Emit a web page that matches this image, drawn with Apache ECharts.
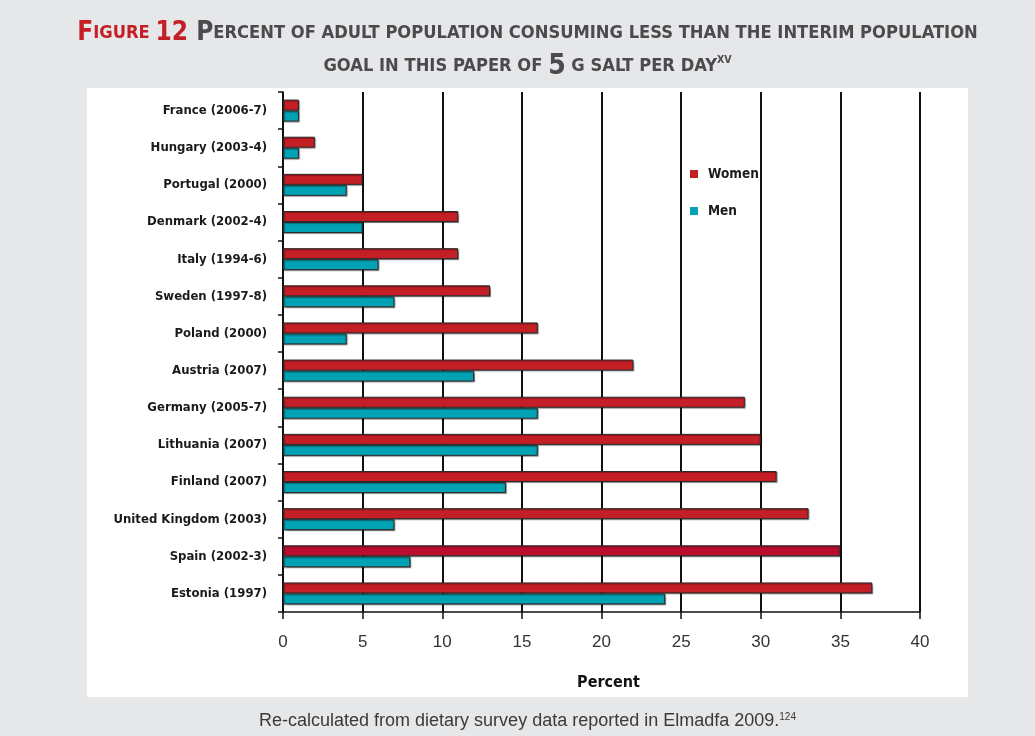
<!DOCTYPE html>
<html>
<head>
<meta charset="utf-8">
<script src="https://cdn.jsdelivr.net/npm/echarts@6/dist/echarts.min.js"></script>
<style>
  html, body { margin: 0; padding: 0; background: #e6e7e9; }
  #chart { width: 1035px; height: 736px; }
</style>
</head>
<body>
<div id="chart"></div>
<script>
// Survey categories, top to bottom
const countries = [
  'France (2006-7)', 'Hungary (2003-4)', 'Portugal (2000)', 'Denmark (2002-4)',
  'Italy (1994-6)', 'Sweden (1997-8)', 'Poland (2000)', 'Austria (2007)',
  'Germany (2005-7)', 'Lithuania (2007)', 'Finland (2007)', 'United Kingdom (2003)',
  'Spain (2002-3)', 'Estonia (1997)'
];
// Percent of adults below 5 g salt per day
const women = [1, 2, 5, 11, 11, 13, 16, 22, 29, 30, 31, 33, 35, 37];
const men   = [1, 1, 4, 5, 6, 7, 4, 12, 16, 16, 14, 7, 8, 24];
const xTicks = [0, 5, 10, 15, 20, 25, 30, 35, 40];
const highlighted = 'Spain (2002-3)';

const RED = '#c41e26';
const RED_DARK = '#b80d2d';
const TEAL = '#00a2b3';
const GREY = '#4b4b4d';
const COND = '"Liberation Sans Narrow", "DejaVu Sans Condensed", "Liberation Sans", sans-serif';
const PLAIN = '"Liberation Sans", sans-serif';

// Turn a phrase into rich-text runs imitating small capitals
function smallCaps(text, bigKey, smallKey) {
  let out = '', run = '', cur = null;
  for (const ch of text) {
    let key;
    if (ch === ' ') key = cur || smallKey;
    else if (ch >= 'a' && ch <= 'z') key = smallKey;
    else key = bigKey;
    if (key !== cur && run) { out += '{' + cur + '|' + run + '}'; run = ''; }
    cur = key;
    run += (key === smallKey) ? ch.toUpperCase() : ch;
  }
  if (run) out += '{' + cur + '|' + run + '}';
  return out;
}

const titleText =
  smallCaps('Figure 12 ', 'rb', 'rs') +
  smallCaps('Percent of adult population consuming less than the interim population', 'gb', 'gs') +
  '\n' +
  smallCaps('goal in this paper of ', 'gb', 'gs') + '{five|5}' +
  smallCaps(' g salt per day', 'gb', 'gs') + '{sup|XV}';

const chart = echarts.init(document.getElementById('chart'), null, { renderer: 'canvas' });

chart.setOption({
  backgroundColor: '#e6e7e9',
  animation: false,
  graphic: [{
    type: 'rect', z: -10,
    shape: { x: 87, y: 88, width: 881, height: 609 },
    style: { fill: '#ffffff' }
  }, {
    // figure heading, centred over the white panel
    type: 'text', x: 527.5, y: 17,
    style: {
      text: titleText,
      align: 'center', verticalAlign: 'top',
      fontFamily: COND, lineHeight: 33,
      rich: {
        rb: { fontFamily: COND, fontWeight: 'bold', fontSize: 26, fill: RED, lineHeight: 33 },
        rs: { fontFamily: COND, fontWeight: 'bold', fontSize: 18.2, fill: RED, lineHeight: 33 },
        gb: { fontFamily: COND, fontWeight: 'bold', fontSize: 26, fill: GREY, lineHeight: 33 },
        gs: { fontFamily: COND, fontWeight: 'bold', fontSize: 18.2, fill: GREY, lineHeight: 33 },
        five: { fontFamily: COND, fontWeight: 'bold', fontSize: 28, fill: GREY, lineHeight: 33 },
        sup: { fontFamily: COND, fontWeight: 'bold', fontSize: 10.5, fill: GREY, lineHeight: 33, padding: [0, 0, 13, 0] }
      }
    }
  }, {
    // source note
    type: 'text', x: 527.5, y: 712,
    style: {
      text: 'Re-calculated from dietary survey data reported in Elmadfa 2009.{sup|124}',
      align: 'center', verticalAlign: 'top',
      fontFamily: PLAIN, fontSize: 18, fill: '#3a3a3a',
      rich: {
        sup: { fontFamily: PLAIN, fontSize: 10, fill: '#3a3a3a', padding: [0, 0, 9, 0] }
      }
    }
  }],
  legend: {
    orient: 'vertical',
    left: 685, top: 162,
    itemWidth: 8, itemHeight: 8, itemGap: 23,
    icon: 'rect',
    itemStyle: { borderWidth: 0 },
    textStyle: { fontFamily: COND, fontWeight: 'bold', fontSize: 13.5, color: '#1a1a1a', padding: [0, 0, 0, 5] },
    data: ['Women', 'Men']
  },
  grid: { left: 283, right: 115, top: 92, bottom: 124, containLabel: false },
  xAxis: {
    type: 'value',
    min: 0, max: 40, interval: 5,
    axisLine: { show: true, lineStyle: { color: '#111', width: 1.5 } },
    axisTick: { show: true, length: 7, lineStyle: { color: '#111', width: 1.5 } },
    splitLine: { show: true, lineStyle: { color: '#111', width: 2 } },
    axisLabel: {
      margin: 22, fontSize: 17, color: '#333',
      fontFamily: PLAIN,
      formatter: v => (xTicks.includes(v) ? String(v) : '')
    },
    name: 'Percent',
    nameLocation: 'middle',
    nameGap: 63,
    nameTextStyle: { fontFamily: COND, fontWeight: 'bold', fontSize: 16, color: '#111', padding: [0, 0, 0, 14] }
  },
  yAxis: {
    type: 'category',
    inverse: true,
    data: countries,
    axisLine: { show: true, lineStyle: { color: '#111', width: 1.5 } },
    axisTick: { show: true, length: 5, lineStyle: { color: '#111', width: 1.5 } },
    axisLabel: { margin: 16, fontFamily: COND, fontWeight: 'bold', fontSize: 13, color: '#1a1a1a' }
  },
  series: [{
    name: 'Women', type: 'bar',
    barWidth: 11, barGap: '0%',
    data: women.map((v, i) => countries[i] === highlighted
      ? { value: v, itemStyle: { color: RED_DARK } } : v),
    itemStyle: {
      color: RED, borderColor: '#2a2a2a', borderWidth: 1,
      shadowColor: 'rgba(0,0,0,0.35)', shadowOffsetX: 1, shadowOffsetY: 1, shadowBlur: 1
    }
  }, {
    name: 'Men', type: 'bar',
    barWidth: 11, barGap: '0%',
    data: men,
    itemStyle: {
      color: TEAL, borderColor: '#2a2a2a', borderWidth: 1,
      shadowColor: 'rgba(0,0,0,0.35)', shadowOffsetX: 1, shadowOffsetY: 1, shadowBlur: 1
    }
  }]
});
</script>
</body>
</html>
